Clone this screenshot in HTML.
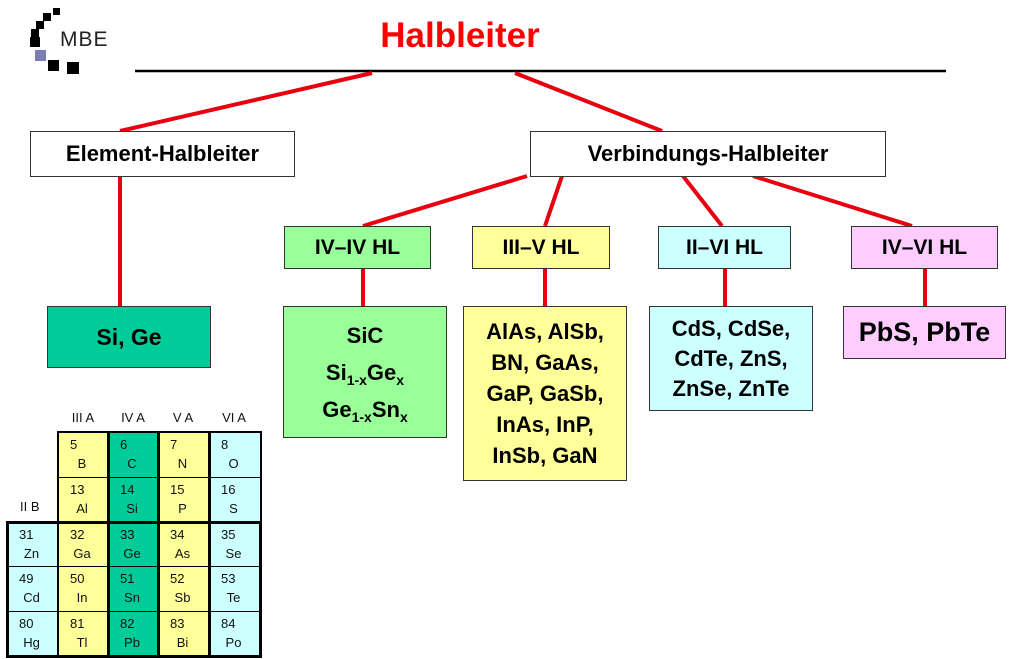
<!DOCTYPE html>
<html><head><meta charset="utf-8"><style>
body{margin:0;width:1012px;height:659px;background:#fff;position:relative;overflow:hidden;font-family:"Liberation Sans",Arial,sans-serif}
.b{position:absolute;border:1px solid #333;box-sizing:border-box;display:flex;align-items:center;justify-content:center;text-align:center;font-weight:bold;color:#000}
.t{position:absolute;font-size:13px;color:#111}
sub{font-size:14px;vertical-align:-5px;line-height:0}
</style></head><body>
<svg width="1012" height="659" style="position:absolute;left:0;top:0">
<g fill="#000"><rect x="53" y="8" width="7" height="7"/><rect x="43" y="13" width="8" height="8"/><rect x="36" y="21" width="8" height="8"/><rect x="31" y="29" width="8" height="8"/><rect x="30" y="37" width="10" height="10"/><rect x="48" y="60" width="11" height="11"/><rect x="67" y="62" width="12" height="12"/></g>
<rect x="35" y="50" width="11" height="11" fill="#7d7db5"/>
<text x="60" y="46" font-family="Liberation Sans" font-size="21" fill="#222" letter-spacing="1">MBE</text>
<line x1="135" y1="71" x2="946" y2="71" stroke="#000" stroke-width="2.5"/>
<g stroke="#e8000f" stroke-width="4">
<line x1="372" y1="73" x2="120" y2="131"/><line x1="515" y1="73" x2="662" y2="131"/>
<line x1="120" y1="176" x2="120" y2="306"/>
<line x1="527" y1="176" x2="363" y2="226"/><line x1="562" y1="176" x2="545" y2="226"/>
<line x1="683" y1="176" x2="722" y2="226"/><line x1="753" y1="176" x2="912" y2="226"/>
<line x1="363" y1="268" x2="363" y2="306"/><line x1="545" y1="268" x2="545" y2="306"/>
<line x1="725" y1="268" x2="725" y2="306"/><line x1="925" y1="268" x2="925" y2="306"/>
</g>
</svg>
<div style="position:absolute;left:360px;top:16px;width:200px;text-align:center;color:#ff0000;font-weight:bold;font-size:35px">Halbleiter</div>
<div class="b" style="left:30px;top:131px;width:265px;height:46px;font-size:22px;background:#fff">Element-Halbleiter</div>
<div class="b" style="left:530px;top:131px;width:356px;height:46px;font-size:22px;background:#fff">Verbindungs-Halbleiter</div>
<div class="b" style="left:47px;top:306px;width:164px;height:62px;font-size:23px;background:#00cc99">Si, Ge</div>
<div class="b" style="left:284px;top:226px;width:147px;height:43px;font-size:21px;background:#99ff99">IV–IV HL</div>
<div class="b" style="left:472px;top:226px;width:138px;height:43px;font-size:21px;background:#ffff99">III–V HL</div>
<div class="b" style="left:658px;top:226px;width:133px;height:43px;font-size:21px;background:#ccffff">II–VI HL</div>
<div class="b" style="left:851px;top:226px;width:147px;height:43px;font-size:21px;background:#ffccff">IV–VI HL</div>
<div class="b" style="left:283px;top:306px;width:164px;height:132px;font-size:22px;line-height:37px;background:#99ff99"><div>SiC<br>Si<sub>1-x</sub>Ge<sub>x</sub><br>Ge<sub>1-x</sub>Sn<sub>x</sub></div></div>
<div class="b" style="left:463px;top:306px;width:164px;height:175px;font-size:22px;line-height:31px;background:#ffff99"><div>AlAs, AlSb,<br>BN, GaAs,<br>GaP, GaSb,<br>InAs, InP,<br>InSb, GaN</div></div>
<div class="b" style="left:649px;top:306px;width:164px;height:105px;font-size:22px;line-height:30px;background:#ccffff"><div>CdS, CdSe,<br>CdTe, ZnS,<br>ZnSe, ZnTe</div></div>
<div class="b" style="left:843px;top:306px;width:163px;height:53px;font-size:27px;background:#ffccff">PbS, PbTe</div>
<div id="pt"></div>
<script>
var cols=[7,58,108,158,209,260],rows=[432,477,522,566,611,656];
var colors=['#ccffff','#ffff99','#00cc99','#ffff99','#ccffff'];
var data=[[null,['5','B'],['6','C'],['7','N'],['8','O']],[null,['13','Al'],['14','Si'],['15','P'],['16','S']],[['31','Zn'],['32','Ga'],['33','Ge'],['34','As'],['35','Se']],[['49','Cd'],['50','In'],['51','Sn'],['52','Sb'],['53','Te']],[['80','Hg'],['81','Tl'],['82','Pb'],['83','Bi'],['84','Po']]];
var h='';
for(var r=0;r<5;r++)for(var c=0;c<5;c++){var d=data[r][c];if(!d)continue;
var x=cols[c],y=rows[r],w=cols[c+1]-x,hh=rows[r+1]-y;
h+='<div style="position:absolute;left:'+x+'px;top:'+y+'px;width:'+(w+1)+'px;height:'+(hh+1)+'px;background:'+colors[c]+';border:1px solid #000;box-sizing:border-box"></div>';
h+='<div class="t" style="left:'+(x+12)+'px;top:'+(y+5)+'px">'+d[0]+'</div>';
h+='<div class="t" style="left:'+(x+12)+'px;top:'+(y+24)+'px;width:'+(w-12)+'px;text-align:center;padding-right:14px;box-sizing:border-box">'+d[1]+'</div>';}
h+='<div style="position:absolute;left:6px;top:521px;width:256px;height:137px;border:3px solid #000;box-sizing:border-box"></div>';
h+='<div style="position:absolute;left:107px;top:431px;width:53px;height:227px;border-left:3px solid #000;border-right:3px solid #000;box-sizing:border-box"></div>';
h+='<div style="position:absolute;left:208px;top:431px;width:3px;height:227px;background:#000"></div>';
h+='<div style="position:absolute;left:57px;top:431px;width:205px;height:227px;border:2px solid #000;box-sizing:border-box"></div>';
var lab=['III A','IV A','V A','VI A'];
for(var i=0;i<4;i++)h+='<div class="t" style="left:'+cols[i+1]+'px;top:410px;width:50px;text-align:center">'+lab[i]+'</div>';
h+='<div class="t" style="left:20px;top:499px">II B</div>';
document.getElementById('pt').innerHTML=h;
</script>
</body></html>
